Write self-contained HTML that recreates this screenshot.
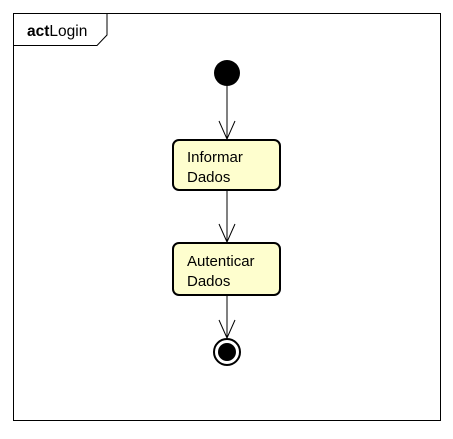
<!DOCTYPE html>
<html><head><style>body{margin:0;background:#fff}</style></head><body>
<svg width="453" height="434" xmlns="http://www.w3.org/2000/svg" font-family="Liberation Sans, sans-serif">
<rect x="13.5" y="13.5" width="427" height="407" fill="none" stroke="#000" stroke-width="1"/>
<path d="M13.5 45.5 H97 L107 35 V13.5" fill="none" stroke="#000" stroke-width="1"/>
<text x="27" y="36" font-size="15.5"><tspan font-weight="bold">act</tspan>Login</text>
<circle cx="227" cy="73" r="13" fill="#000"/>
<line x1="227" y1="86" x2="227" y2="139" stroke="#000"/>
<path d="M219 121 L227 139 L235 121" fill="none" stroke="#000"/>
<rect x="173" y="140" width="107" height="50" rx="6" fill="#FEFECE" stroke="#000" stroke-width="2"/>
<text x="187" y="162" font-size="15">Informar</text>
<text x="187" y="182" font-size="15">Dados</text>
<line x1="227" y1="190" x2="227" y2="242" stroke="#000"/>
<path d="M219 224 L227 242 L235 224" fill="none" stroke="#000"/>
<rect x="173" y="243" width="107" height="52" rx="6" fill="#FEFECE" stroke="#000" stroke-width="2"/>
<text x="187" y="266" font-size="15">Autenticar</text>
<text x="187" y="286" font-size="15">Dados</text>
<line x1="227" y1="295" x2="227" y2="338" stroke="#000"/>
<path d="M219 320 L227 338 L235 320" fill="none" stroke="#000"/>
<circle cx="227" cy="352" r="13" fill="#fff" stroke="#000" stroke-width="2"/>
<circle cx="227" cy="352" r="9" fill="#000"/>
</svg>
</body></html>
